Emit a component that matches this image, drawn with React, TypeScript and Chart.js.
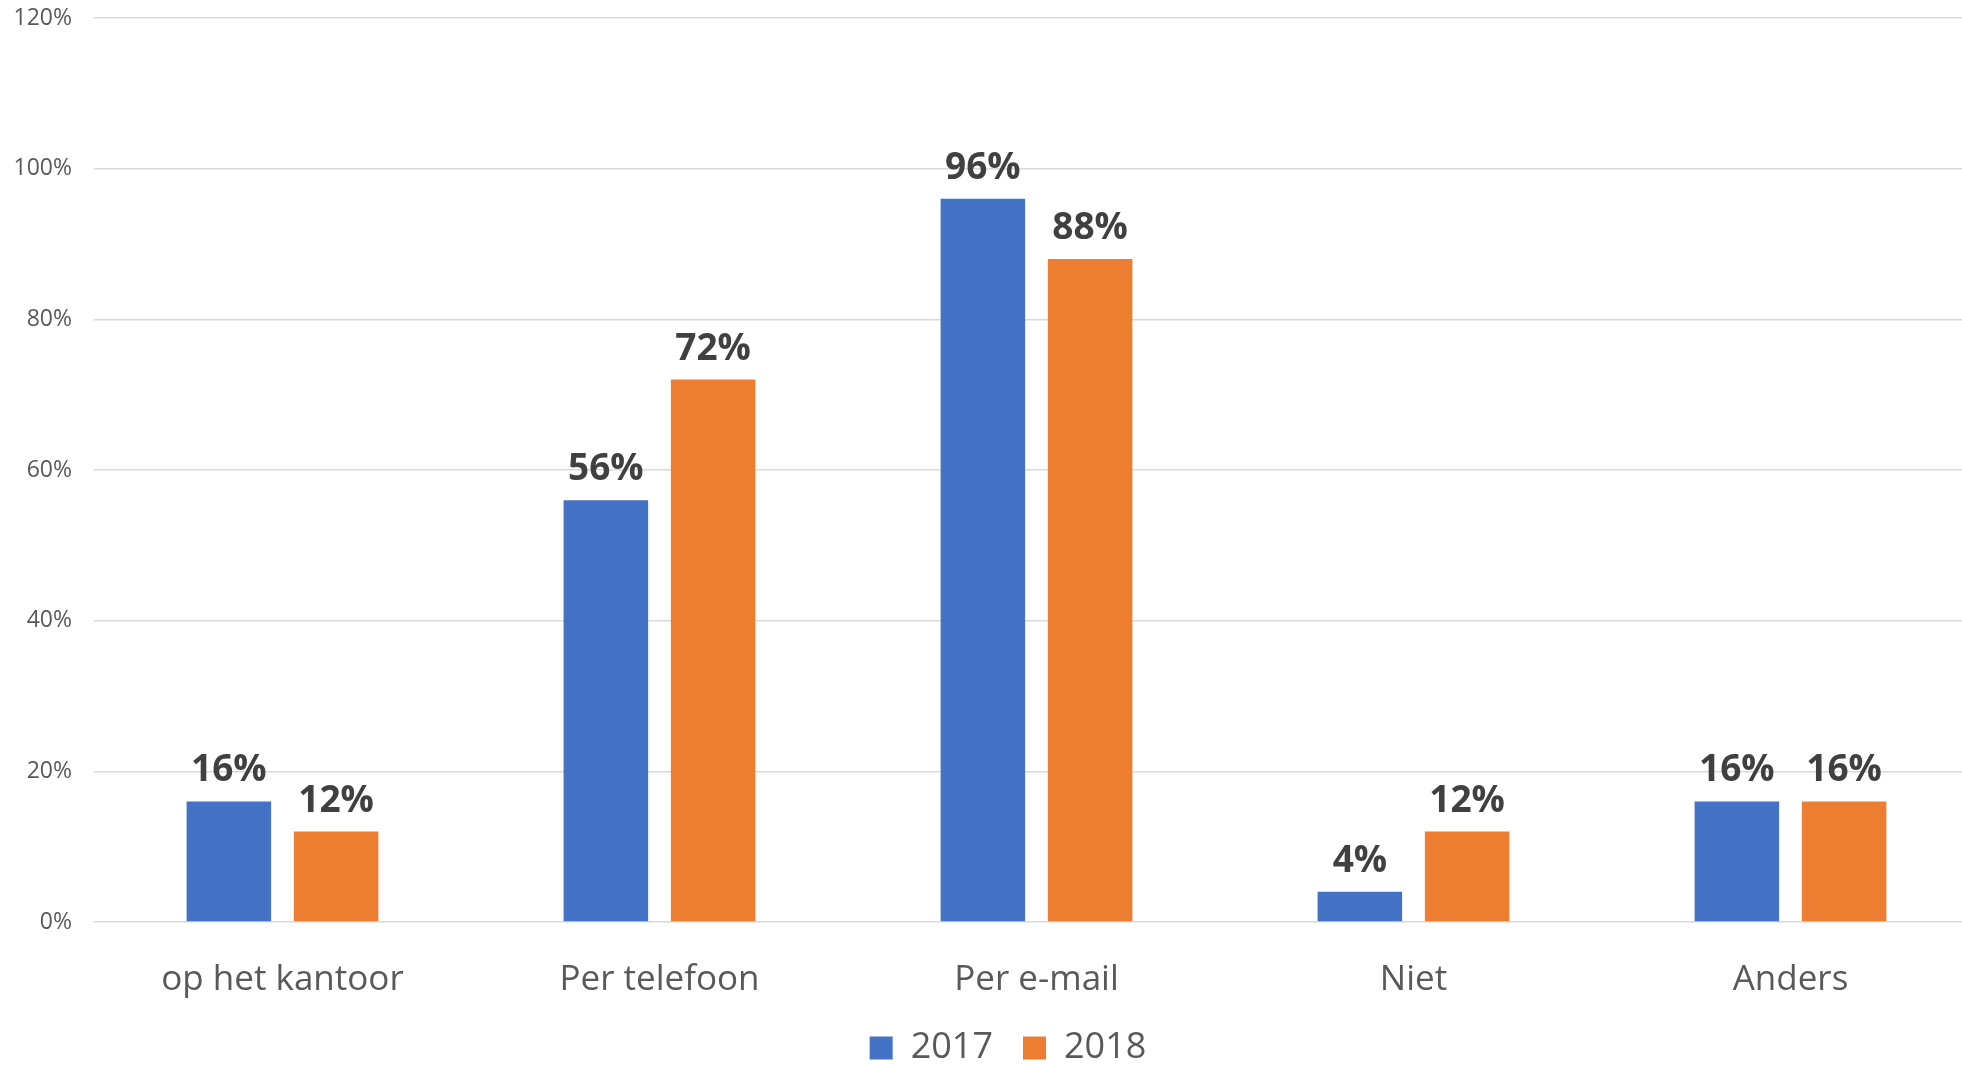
import React, { useEffect, useRef } from "react";
import { Chart, registerables } from "chart.js";

Chart.register(...registerables);

const categories = ["op het kantoor", "Per telefoon", "Per e-mail", "Niet", "Anders"];
const values2017 = [16, 56, 96, 4, 16];
const values2018 = [12, 72, 88, 12, 16];
const seriesNames = ["2017", "2018"];
const yTicks = { min: 0, max: 120, step: 20 };

const FONT = "'Open Sans', 'Noto Sans', sans-serif";

const dataLabelPlugin = {
  id: "dataLabels",
  afterDatasetsDraw(chart: any) {
    const ctx = chart.ctx;
    ctx.save();
    ctx.font = `bold 37px ${FONT}`;
    ctx.fillStyle = "#404040";
    ctx.textAlign = "center";
    ctx.textBaseline = "alphabetic";
    chart.data.datasets.forEach((ds: any, i: number) => {
      const meta = chart.getDatasetMeta(i);
      meta.data.forEach((el: any, j: number) => {
        ctx.fillText(`${ds.data[j]}%`, el.x, el.y - 20);
      });
    });
    ctx.restore();
  },
};

export default function App() {
  const ref = useRef<HTMLCanvasElement | null>(null);

  useEffect(() => {
    if (!ref.current) return;
    const chart = new Chart(ref.current, {
      type: "bar",
      data: {
        labels: categories,
        datasets: [
          {
            label: seriesNames[0],
            data: values2017,
            backgroundColor: "#4472C4",
            categoryPercentage: 0.569,
            barPercentage: 0.788,
          },
          {
            label: seriesNames[1],
            data: values2018,
            backgroundColor: "#ED7D31",
            categoryPercentage: 0.569,
            barPercentage: 0.788,
          },
        ],
      },
      options: {
        animation: false,
        responsive: false,
        devicePixelRatio: 1,
        layout: { padding: { top: 18, left: 0, right: 0, bottom: 0 } },
        plugins: {
          tooltip: { enabled: false },
          legend: {
            position: "bottom",
            labels: {
              boxWidth: 23,
              boxHeight: 23,
              padding: 30,
              color: "#595959",
              font: { family: FONT, size: 36 },
            },
          },
        },
        scales: {
          x: {
            grid: { display: false, drawTicks: false },
            border: { display: false },
            ticks: {
              color: "#595959",
              padding: 37,
              font: { family: FONT, size: 35 },
            },
            afterFit: (s: any) => {
              s.height = 78;
              s.paddingLeft = 0;
              s.paddingRight = 0;
            },
          },
          y: {
            min: yTicks.min,
            max: yTicks.max,
            grid: { color: "#d9d9d9", lineWidth: 1.5, drawTicks: false },
            border: { display: false },
            ticks: {
              stepSize: yTicks.step,
              padding: 22,
              color: "#595959",
              font: { family: FONT, size: 23 },
              callback: (v: any) => `${v}%`,
            },
            afterFit: (s: any) => {
              s.width = 94;
              s.paddingTop = 0;
              s.paddingBottom = 0;
            },
          },
          yRight: {
            type: "linear",
            position: "right",
            display: true,
            grid: { display: false },
            border: { display: false },
            ticks: { display: false },
            afterFit: (s: any) => {
              s.width = 37;
              s.paddingTop = 0;
              s.paddingBottom = 0;
            },
          },
        },
      } as any,
      plugins: [dataLabelPlugin],
    });
    return () => chart.destroy();
  }, []);

  return (
    <div
      style={{
        position: "absolute",
        left: 0,
        top: 0,
        width: 1962,
        height: 1066,
        overflow: "hidden",
        background: "#fff",
      }}
    >
      <canvas ref={ref} width={2016} height={1076} style={{ width: 2016, height: 1076, display: "block" }} />
    </div>
  );
}
